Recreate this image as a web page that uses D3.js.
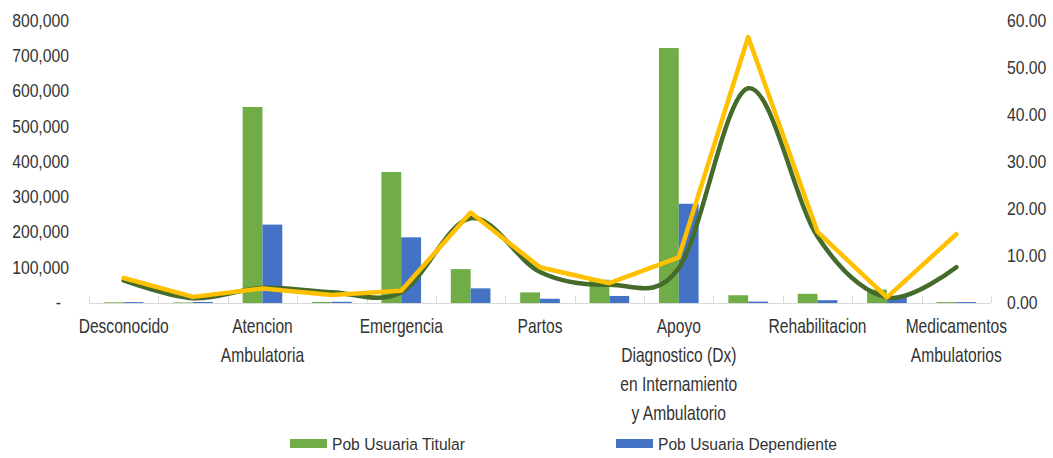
<!DOCTYPE html>
<html>
<head>
<meta charset="utf-8">
<title>Pob Usuaria</title>
<script src="https://d3js.org/d3.v7.min.js"></script>
<style>
  body { margin: 0; background: #fff; }
  text { font-family: "Liberation Sans", Arial, sans-serif; fill: #333; }
</style>
</head>
<body>
<svg id="chart" width="1053" height="458"></svg>
<script>
// categories (Excel only prints every other label)
const categories = [
  "Desconocido", "Hospitalizacion", "Atencion Ambulatoria", "Cirugia",
  "Emergencia", "Odontologia", "Partos", "Salud Mental",
  "Apoyo Diagnostico (Dx) en Internamiento y Ambulatorio", "Apoyo Terapeutico",
  "Rehabilitacion", "Prevencion", "Medicamentos Ambulatorios"
];
const labelLines = {
  "Desconocido": ["Desconocido"],
  "Atencion Ambulatoria": ["Atencion", "Ambulatoria"],
  "Emergencia": ["Emergencia"],
  "Partos": ["Partos"],
  "Apoyo Diagnostico (Dx) en Internamiento y Ambulatorio": ["Apoyo", "Diagnostico (Dx)", "en Internamiento", "y Ambulatorio"],
  "Rehabilitacion": ["Rehabilitacion"],
  "Medicamentos Ambulatorios": ["Medicamentos", "Ambulatorios"]
};

// bars, left axis
const titular     = [2000, 1500, 555000, 3000, 371000, 96000, 30000, 66000, 722000, 22000, 26000, 38000, 2500];
const dependiente = [2500, 3000, 222000, 3500, 186000, 41500, 12000, 20000, 281000, 4000, 8000, 18000, 2500];

// lines, right axis
const lineYellow = [5.3, 1.3, 3.1, 1.7, 2.6, 19.2, 7.6, 4.2, 9.7, 56.5, 15.1, 1.2, 14.6];
const lineGreen  = [4.8, 1.0, 3.2, 2.3, 2.3, 18.0, 6.6, 3.9, 7.4, 45.6, 14.1, 1.2, 7.6];

const leftTicks  = [0, 100000, 200000, 300000, 400000, 500000, 600000, 700000, 800000];
const rightTicks = [0, 10, 20, 30, 40, 50, 60];

const svg = d3.select("#chart");
const x0 = 89, x1 = 991, yBase = 303, yTop = 20.5;

const x = d3.scaleBand().domain(categories).range([x0, x1]);
const xSub = d3.scaleBand().domain(["t", "d"]).range([0, x.bandwidth()]).paddingOuter(0.75).paddingInner(0);
const yL = d3.scaleLinear().domain([0, 800000]).range([yBase, yTop]);
const yR = d3.scaleLinear().domain([0, 60]).range([yBase, yTop]);

// left axis labels
const yAxisL = d3.axisLeft(yL).tickValues(leftTicks).tickSize(0).tickPadding(0)
  .tickFormat(d => d === 0 ? "-" : d3.format(",")(d));
const gL = svg.append("g").attr("transform", "translate(69,0)").call(yAxisL);
gL.select(".domain").remove();
gL.selectAll("text").style("font-size", "17.5px").attr("fill", "#333")
  .attr("x", 0).attr("transform", "scale(0.9,1)");
gL.selectAll(".tick").filter(d => d === 0).select("text").attr("x", -9);

// right axis labels
const yAxisR = d3.axisRight(yR).tickValues(rightTicks).tickSize(0).tickPadding(0)
  .tickFormat(d3.format(".2f"));
const gR = svg.append("g").attr("transform", "translate(1007,0)").call(yAxisR);
gR.select(".domain").remove();
gR.selectAll("text").style("font-size", "17.5px").attr("fill", "#333")
  .attr("x", 0).attr("transform", "scale(0.9,1)");

// bars
const groups = svg.append("g").selectAll("g").data(categories).join("g")
  .attr("transform", d => `translate(${x(d)},0)`);
groups.append("rect")
  .attr("x", xSub("t")).attr("width", xSub.bandwidth())
  .attr("y", (d, i) => yL(titular[i])).attr("height", (d, i) => yBase - yL(titular[i]))
  .attr("fill", "#70AD47");
groups.append("rect")
  .attr("x", xSub("d")).attr("width", xSub.bandwidth())
  .attr("y", (d, i) => yL(dependiente[i])).attr("height", (d, i) => yBase - yL(dependiente[i]))
  .attr("fill", "#4472C4");

// category axis
const xAxis = svg.append("g");
xAxis.append("line").attr("x1", x0).attr("x2", x1).attr("y1", yBase + 0.5).attr("y2", yBase + 0.5)
  .attr("stroke", "#d9d9d9").attr("stroke-width", 1);
xAxis.selectAll("line.tk").data(categories.concat(["end"])).join("line").attr("class", "tk")
  .attr("x1", (d, i) => Math.round(x0 + i * x.step()) + 0.5)
  .attr("x2", (d, i) => Math.round(x0 + i * x.step()) + 0.5)
  .attr("y1", yBase - 7).attr("y2", yBase)
  .attr("stroke", "#d9d9d9");

// category labels, condensed like the original
const lbl = svg.append("g").selectAll("g").data(categories.filter((d, i) => i % 2 === 0)).join("g")
  .attr("transform", d => `translate(${x(d) + x.bandwidth() / 2},333) scale(0.78,1)`)
  .append("text")
  .attr("text-anchor", "middle")
  .style("font-size", "20px");
lbl.selectAll("tspan").data(d => labelLines[d]).join("tspan")
  .attr("x", 0).attr("y", (d, i) => i * 29).text(d => d);

// lines
const cx = (i) => x(categories[i]) + x.bandwidth() / 2;
const smooth = d3.line().x((d, i) => cx(i)).y(d => yR(d)).curve(d3.curveCardinal.tension(0));
const straight = d3.line().x((d, i) => cx(i)).y(d => yR(d));

svg.append("path").attr("d", smooth(lineGreen))
  .attr("fill", "none").attr("stroke", "#446B2A").attr("stroke-width", 4.5)
  .attr("stroke-linecap", "round").attr("stroke-linejoin", "round");
svg.append("path").attr("d", straight(lineYellow))
  .attr("fill", "none").attr("stroke", "#FFC000").attr("stroke-width", 4.5)
  .attr("stroke-linecap", "round").attr("stroke-linejoin", "round");

// legend
const legend = [
  { name: "Pob Usuaria Titular", color: "#70AD47", x: 290 },
  { name: "Pob Usuaria Dependiente", color: "#4472C4", x: 616 }
];
const lg = svg.append("g").selectAll("g").data(legend).join("g")
  .attr("transform", d => `translate(${d.x},0)`);
lg.append("rect").attr("x", 0).attr("y", 439).attr("width", 37).attr("height", 9).attr("fill", d => d.color);
lg.append("g").attr("transform", "translate(42,450) scale(0.92,1)")
  .append("text").style("font-size", "17px").text(d => d.name);
</script>
</body>
</html>
